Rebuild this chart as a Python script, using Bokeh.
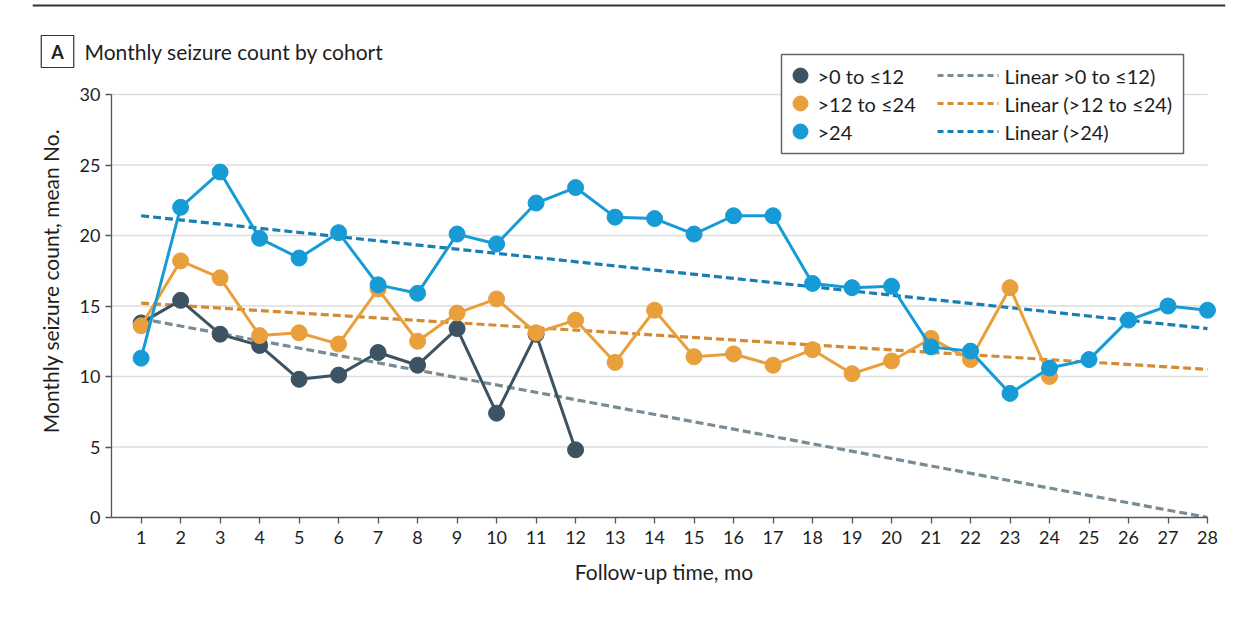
from bokeh.plotting import figure
from bokeh.models import Range1d, FixedTicker, Label
from bokeh.embed import file_html
from bokeh.resources import INLINE
from bokeh.core.properties import value

# ---------------- data ----------------
months = list(range(1, 29))
months_a = months[:12]
months_b = months[:24]
cohort_a = [13.8, 15.4, 13.0, 12.2, 9.8, 10.1, 11.7, 10.8, 13.4, 7.4, 13.0, 4.8]
cohort_b = [13.6, 18.2, 17.0, 12.9, 13.1, 12.3, 16.2, 12.5, 14.5, 15.5, 13.1, 14.0,
            11.0, 14.7, 11.4, 11.6, 10.8, 11.9, 10.2, 11.1, 12.7, 11.2, 16.3, 10.0]
cohort_c = [11.3, 22.0, 24.5, 19.8, 18.4, 20.2, 16.5, 15.9, 20.1, 19.4, 22.3, 23.4,
            21.3, 21.2, 20.1, 21.4, 21.4, 16.6, 16.3, 16.4, 12.1, 11.8, 8.8, 10.6,
            11.2, 14.0, 15.0, 14.7]
trend_x = [1, 28]
trend_a = [14.1, 0.0]
trend_b = [15.2, 10.5]
trend_c = [21.4, 13.4]
series_labels = [">0 to \u226412", ">12 to \u226424", ">24"]
trend_labels = ["Linear >0 to \u226412)", "Linear (>12 to \u226424)", "Linear (>24)"]
y_ticks = [0, 5, 10, 15, 20, 25, 30]
title_text = "Monthly seizure count by cohort"
panel_letter = "A"
x_title = "Follow-up time, mo"
y_title = "Monthly seizure count, mean No."

# ---------------- styles ----------------
FONT = "Lato"
C_A, C_B, C_C = "#3d5361", "#e89f3c", "#169bd7"
T_A, T_B, T_C = "#7a8b94", "#d38b34", "#1a7db3"
TEXT = "#1e1e1e"
AXIS = "#555555"

# page-pixel layout -> data coordinates (figure sits at page origin)
X0, X1 = 0.25, 28           # axis extent
FL, FR = 111, 1207          # pixel columns of X0 and X1
YB_PX, Y30_PX = 517, 94     # pixel rows of y=0 and y=30
FT = 44                     # frame top
FR_FRAME = 1216             # frame right (a little past x=28 so end markers are whole)


def sx(px):
    return X0 + (px - FL) * (X1 - X0) / (FR - FL)


def sy(py):
    return (YB_PX - py) * 30 / (YB_PX - Y30_PX)


Y_END = sy(FT)
X_END = sx(FR_FRAME)

W, H = 1250, 610
p = figure(width=W, height=H, output_backend="svg", toolbar_location=None,
           x_range=Range1d(X0, X_END), y_range=Range1d(0, Y_END),
           min_border_left=FL, min_border_right=W - FR_FRAME,
           min_border_top=FT, min_border_bottom=H - YB_PX)
p.outline_line_color = None
p.background_fill_color = "white"
p.border_fill_color = "white"

# axes
p.xaxis.ticker = FixedTicker(ticks=months)
p.xaxis.bounds = (X0, X1)
p.yaxis.ticker = FixedTicker(ticks=y_ticks)
p.yaxis.bounds = (0, 30)
for ax in (p.xaxis[0], p.yaxis[0]):
    ax.axis_line_color = AXIS
    ax.axis_line_width = 1.3
    ax.major_tick_line_color = AXIS
    ax.major_tick_line_width = 1.3
    ax.major_tick_out = 6
    ax.major_tick_in = 0
    ax.minor_tick_line_color = None
    ax.major_label_text_font = FONT
    ax.major_label_text_font_size = "18px"
    ax.major_label_text_color = TEXT
    ax.axis_label_text_font = FONT
    ax.axis_label_text_font_size = "21px"
    ax.axis_label_text_font_style = "normal"
    ax.axis_label_text_color = TEXT
p.xaxis.axis_label = x_title
p.yaxis.axis_label = y_title
p.xaxis.major_label_standoff = 7
p.xaxis.axis_label_standoff = 12
p.yaxis.major_label_standoff = 5
p.yaxis.axis_label_standoff = 14

# horizontal grid lines, ending at x=28 like the axis
p.xgrid.grid_line_color = None
p.ygrid.grid_line_color = None
grid_y = [t for t in y_ticks if t > 0]
p.segment(x0=[X0] * len(grid_y), x1=[X1] * len(grid_y), y0=grid_y, y1=grid_y,
          line_color="#dddddd", line_width=1.5)

# trend lines
for ys, c in ((trend_a, T_A), (trend_b, T_B), (trend_c, T_C)):
    p.line(trend_x, ys, line_color=c, line_width=3.2, line_dash="8 4")

# data series
for xs, ys, c in ((months_a, cohort_a, C_A), (months_b, cohort_b, C_B), (months, cohort_c, C_C)):
    p.line(xs, ys, line_color=c, line_width=3)
    p.scatter(xs, ys, size=16, fill_color=c, line_color=c)

# legend (inside the frame area above y=30)
p.quad(left=[sx(781)], right=[sx(1183)], top=[sy(54)], bottom=[sy(153)],
       fill_color="white", line_color="#666666", line_width=1.5)
row_py = [75, 103, 131]
row_y = [sy(v) for v in row_py]
p.scatter([sx(800)] * 3, row_y, size=15, fill_color=[C_A, C_B, C_C], line_color=[C_A, C_B, C_C])
p.text([sx(817)] * 3, row_y, text=series_labels, text_font=value(FONT),
       text_font_size="20px", text_baseline="middle", text_color=TEXT)
p.segment(x0=[sx(937)] * 3, x1=[sx(998)] * 3, y0=row_y, y1=row_y,
          line_color=[T_A, T_B, T_C], line_width=3, line_dash="6 4")
p.text([sx(1004)] * 3, row_y, text=trend_labels, text_font=value(FONT),
       text_font_size="20px", text_baseline="middle", text_color=TEXT)


def pad(l, r, t, b):
    return dict(left=l, right=r, top=t, bottom=b)


# top rule (thin filled box of a label) and title in the "above" panel
rule = Label(x=sx((32 + 1225) / 2), y=sy(5), text=" ", text_align="center",
             text_baseline="middle", text_font_size="2px",
             background_fill_color="#333333", background_fill_alpha=1.0)
rule.padding = pad(596, 596, 0, 0)
p.add_layout(rule, "above")

p.add_layout(Label(x=sx(84), y=sy(51), text=title_text, text_align="left",
                   text_baseline="middle", text_font=FONT, text_font_size="21px",
                   text_color=TEXT), "above")

# panel letter box in the "left" panel
letter = Label(x=sx(57), y=sy(51), text=panel_letter, text_align="center",
               text_baseline="middle", text_font=FONT, text_font_size="18px",
               text_font_style="bold", text_color=TEXT,
               border_line_color="#333333", border_line_width=1.2,
               background_fill_color="white")
letter.padding = pad(10, 10, 5, 5)
p.add_layout(letter, "left")

open("out.html", "w").write(file_html(p, INLINE))
